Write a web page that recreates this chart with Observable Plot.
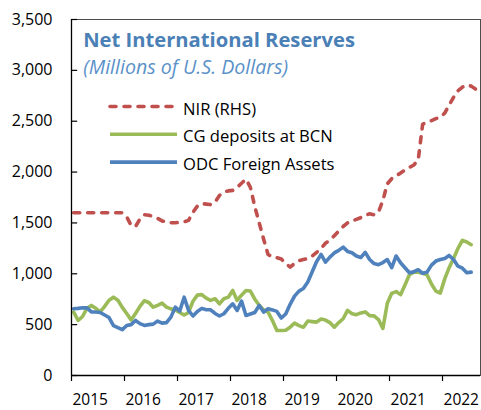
<!DOCTYPE html>
<html>
<head>
<meta charset="utf-8">
<script src="https://cdn.jsdelivr.net/npm/d3@7"></script>
<script src="https://cdn.jsdelivr.net/npm/@observablehq/plot@0.6"></script>
<style>
  html, body { margin: 0; padding: 0; background: #fff; }
  svg { display: block; }
</style>
</head>
<body>
<div id="chart"></div>
<script>
// ---- Data (monthly, Jan 2015 onward, millions of US$) ----
const yearLabels = ["2015", "2016", "2017", "2018", "2019", "2020", "2021", "2022"];
const yTicks = [0, 500, 1000, 1500, 2000, 2500, 3000, 3500];
const seriesNames = ["NIR (RHS)", "CG deposits at BCN", "ODC Foreign Assets"];
const seriesColors = ["#c0504d", "#9bbb59", "#4f81bd"];

const nir = [
  1600, 1600, 1600, 1600, 1600, 1600, 1600, 1600, 1600, 1600, 1600, 1600,
  1560, 1475, 1465, 1540, 1580, 1575, 1565, 1545, 1520, 1508, 1502, 1502,
  1508, 1512, 1525, 1605, 1665, 1690, 1685, 1680, 1705, 1770, 1805, 1815,
  1820, 1850, 1890, 1930, 1850, 1660, 1500, 1340, 1190, 1165, 1158, 1145,
  1100, 1066, 1100, 1130, 1140, 1150, 1175, 1210, 1250, 1300, 1330, 1375,
  1420, 1465, 1500, 1520, 1535, 1552, 1575, 1590, 1580, 1607, 1720, 1885,
  1935, 1965, 1990, 2020, 2045, 2070, 2120, 2470, 2490, 2505, 2525, 2540,
  2580, 2660, 2735, 2800, 2835, 2855, 2845, 2815, 2780
];
const cg = [
  623, 541, 580, 660, 689, 660, 625, 680, 740, 770, 740, 670,
  610, 545, 610, 680, 735, 718, 672, 690, 711, 672, 655, 645,
  620, 595, 620, 730, 790, 795, 760, 738, 754, 705, 754, 770,
  836, 738, 790, 835, 830, 750, 690, 645, 623, 540, 443, 443,
  445, 475, 515, 490, 475, 535, 530, 525, 555, 545, 520, 475,
  520, 558, 640, 608, 598, 615, 625, 588, 586, 550, 462, 710,
  808, 825, 795, 890, 990, 1016, 1016, 1005, 990, 900, 830, 810,
  950, 1060, 1150, 1250, 1328, 1312, 1286
];
const odc = [
  656, 660, 666, 665, 625, 625, 620, 595, 570, 490, 470, 450,
  492, 500, 541, 510, 492, 500, 505, 535, 515, 520, 574, 672,
  633, 770, 640, 585, 630, 660, 646, 646, 610, 585, 607, 660,
  705, 640, 731, 590, 605, 620, 689, 623, 656, 645, 630, 565,
  605, 700, 780, 830, 855, 920, 1020, 1120, 1190, 1115, 1164, 1205,
  1230, 1262, 1220, 1207, 1175, 1160, 1210, 1140, 1100, 1090, 1110, 1140,
  1060, 1175, 1109, 1060, 1010, 1020, 1040, 1005, 1016, 1085, 1125, 1140,
  1150, 1180, 1140, 1075, 1055, 1010, 1016
];

// ---- Build tables ----
const toRows = (arr) => arr.map((v, i) => ({ m: i + 0.5, v }));
const series = [nir, cg, odc].map(toRows);
const yearStarts = yearLabels.map((_, i) => i * 12);

const font = "'Open Sans', 'Noto Sans', sans-serif";
const legendRowGap = 27.8;

const legendMarks = seriesNames.flatMap((name, i) => [
  Plot.ruleY([yTicks[yTicks.length - 1]], {
    dy: 87 + i * legendRowGap,
    insetLeft: 39, insetRight: 303,
    stroke: seriesColors[i], strokeWidth: 3.6,
    strokeDasharray: i === 0 ? "6,8" : null,
    strokeLinecap: i === 0 ? "round" : "butt"
  }),
  Plot.text([name], {
    text: d => d,
    frameAnchor: "top-left", textAnchor: "start", lineAnchor: "top",
    dx: 111.5, dy: 83.4 + i * legendRowGap,
    fontSize: 16.6, fill: "#000"
  })
]);

const chart = Plot.plot({
  width: 481,
  height: 410,
  marginLeft: 71,
  marginRight: 1,
  marginTop: 19,
  marginBottom: 35,
  style: { fontFamily: font, fontSize: "16px", color: "#000", background: "#fff" },
  x: { domain: [0, 92.6], label: null },
  y: { domain: [0, 3500], label: null },
  marks: [
    Plot.frame({ stroke: "#4d4d4d", strokeWidth: 1 }),
    // lines
    Plot.line(series[0], { x: "m", y: "v", stroke: seriesColors[0], strokeWidth: 3.6, strokeDasharray: "6,8", strokeLinecap: "round", strokeLinejoin: "round", clip: true }),
    Plot.line(series[1], { x: "m", y: "v", stroke: seriesColors[1], strokeWidth: 3.6, strokeLinejoin: "round", clip: true }),
    Plot.line(series[2], { x: "m", y: "v", stroke: seriesColors[2], strokeWidth: 3.6, strokeLinejoin: "round", clip: true }),
    // axes
    Plot.ruleX([0], { stroke: "#000", strokeWidth: 1.3 }),
    Plot.ruleY([0], { stroke: "#000", strokeWidth: 1.3 }),
    Plot.ruleY(yTicks, { x1: 0, x2: 1.4, stroke: "#000", strokeWidth: 1.2 }),
    Plot.axisY({ ticks: yTicks, tickFormat: d3.format(","), tickSize: 0, tickPadding: 19, fontSize: 16, label: null }),
    Plot.axisX({ ticks: yearStarts, tickFormat: () => "", tickSize: 6, strokeWidth: 1.2, label: null }),
    Plot.axisX({ ticks: yearStarts, tickFormat: d => yearLabels[Math.round(d / 12)], tickSize: 0, tickPadding: 18.5, fontSize: 15.5, textAnchor: "start", dx: 1, label: null }),
    // title
    Plot.text(["Net International Reserves"], {
      text: d => d, frameAnchor: "top-left", textAnchor: "start", lineAnchor: "top",
      dx: 11.7, dy: 13.3, fontSize: 20.2, fontWeight: "bold", fill: "#4a80b6"
    }),
    Plot.text(["(Millions of U.S. Dollars)"], {
      text: d => d, frameAnchor: "top-left", textAnchor: "start", lineAnchor: "top",
      dx: 11.7, dy: 40.4, fontSize: 19.6, fontStyle: "italic", fill: "#5a91c9"
    }),
    ...legendMarks
  ]
});

document.getElementById("chart").appendChild(chart);
</script>
</body>
</html>
